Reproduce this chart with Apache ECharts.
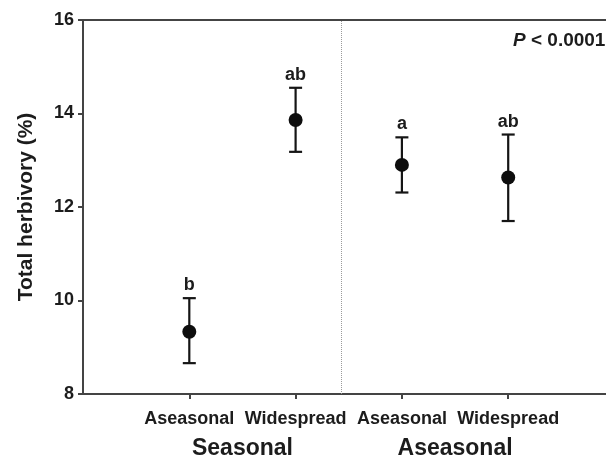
<!DOCTYPE html>
<html>
<head>
<meta charset="utf-8">
<script src="https://cdn.jsdelivr.net/npm/echarts@6/dist/echarts.min.js"></script>
<style>
html,body{margin:0;padding:0;background:#fff;}
#main{width:606px;height:459px;}
</style>
</head>
<body>
<div id="main"></div>
<script>
// data
var categories = ['Aseasonal', 'Widespread', 'Aseasonal', 'Widespread'];
var groups = ['Seasonal', 'Aseasonal'];
var groupCenters = [1.5, 3.5];
var means = [9.33, 13.86, 12.90, 12.63];
var lows = [8.66, 13.18, 12.31, 11.70];
var highs = [10.05, 14.55, 13.49, 13.55];
var letters = ['b', 'ab', 'a', 'ab'];
var yTicks = [8, 10, 12, 14, 16];
var dividerX = 2.427;

var font = '"Liberation Sans", Arial, sans-serif';
var ink = '#1c1c1c';

var barData = [], pointData = [];
for (var i = 0; i < means.length; i++) {
	barData.push([i + 1, means[i], lows[i], highs[i], letters[i]]);
	pointData.push([i + 1, means[i]]);
}

var myChart = echarts.init(document.getElementById('main'));
var option = {
	animation: false,
	grid: {left: 83, right: 0, top: 20, bottom: 65},
	xAxis: [{
		type: 'value', min: 0, max: 4.92, interval: 1,
		axisLine: {show: true, lineStyle: {color: '#444', width: 2}},
		axisTick: {show: true, length: 5, inside: false, customValues: [1, 2, 3, 4], lineStyle: {color: '#444', width: 2}},
		axisLabel: {
			customValues: [1, 2, 3, 4], margin: 16,
			fontFamily: font, fontWeight: 'bold', fontSize: 18, color: ink,
			formatter: function (v) { return categories[Math.round(v) - 1] || ''; }
		},
		splitLine: {show: false}
	}, {
		type: 'value', position: 'top', min: 0, max: 4.92,
		axisLine: {show: true, onZero: false, lineStyle: {color: '#444', width: 2}},
		axisTick: {show: false}, axisLabel: {show: false}, splitLine: {show: false}
	}],
	yAxis: {
		type: 'value', min: yTicks[0], max: yTicks[yTicks.length - 1], interval: 2,
		name: 'Total herbivory (%)', nameLocation: 'middle', nameGap: 46,
		nameTextStyle: {fontFamily: font, fontWeight: 'bold', fontSize: 21, color: ink},
		axisLine: {show: true, lineStyle: {color: '#444', width: 2}},
		axisTick: {show: true, length: 5, lineStyle: {color: '#444', width: 2}},
		axisLabel: {fontFamily: font, fontWeight: 'bold', fontSize: 18, color: ink, margin: 9},
		splitLine: {show: false}
	},
	series: [{
		type: 'custom',
		data: barData,
		silent: true,
		renderItem: function (params, api) {
			var x = api.coord([api.value(0), api.value(2)])[0];
			var lo = api.coord([api.value(0), api.value(2)])[1];
			var hi = api.coord([api.value(0), api.value(3)])[1];
			var cap = 6.5;
			var st = {stroke: '#151515', lineWidth: 2.2};
			return {
				type: 'group',
				children: [
					{type: 'line', shape: {x1: x, y1: lo, x2: x, y2: hi}, style: st},
					{type: 'line', shape: {x1: x - cap, y1: lo, x2: x + cap, y2: lo}, style: st},
					{type: 'line', shape: {x1: x - cap, y1: hi, x2: x + cap, y2: hi}, style: st},
					{type: 'text', x: x, y: hi - 4, style: {
						text: letters[params.dataIndex], textAlign: 'center', textVerticalAlign: 'bottom',
						font: 'bold 18px ' + font, fill: ink
					}}
				]
			};
		}
	}, {
		type: 'scatter',
		data: pointData,
		symbol: 'circle',
		symbolSize: 14,
		itemStyle: {color: '#0d0d0d', opacity: 1},
		silent: true,
		z: 5,
		markLine: {
			silent: true, symbol: 'none', label: {show: false},
			lineStyle: {type: 'dotted', color: '#9a9a9a', width: 1},
			data: [{xAxis: dividerX}]
		}
	}]
};
myChart.setOption(option);

var texts = [];
for (var g = 0; g < groups.length; g++) {
	var px = myChart.convertToPixel({xAxisIndex: 0}, groupCenters[g]);
	texts.push({
		type: 'text', x: px, y: 449,
		style: {text: groups[g], textAlign: 'center', textVerticalAlign: 'middle',
			font: 'bold 23px ' + font, fill: ink}
	});
}
texts.push({
	type: 'text', x: 513, y: 41,
	style: {
		text: '{i|P} < 0.0001', textVerticalAlign: 'middle',
		font: 'bold 19px ' + font, fill: ink,
		rich: {i: {fontStyle: 'italic', fontWeight: 'bold', fontSize: 19, fontFamily: font, fill: ink}}
	}
});
myChart.setOption({graphic: texts});
</script>
</body>
</html>
